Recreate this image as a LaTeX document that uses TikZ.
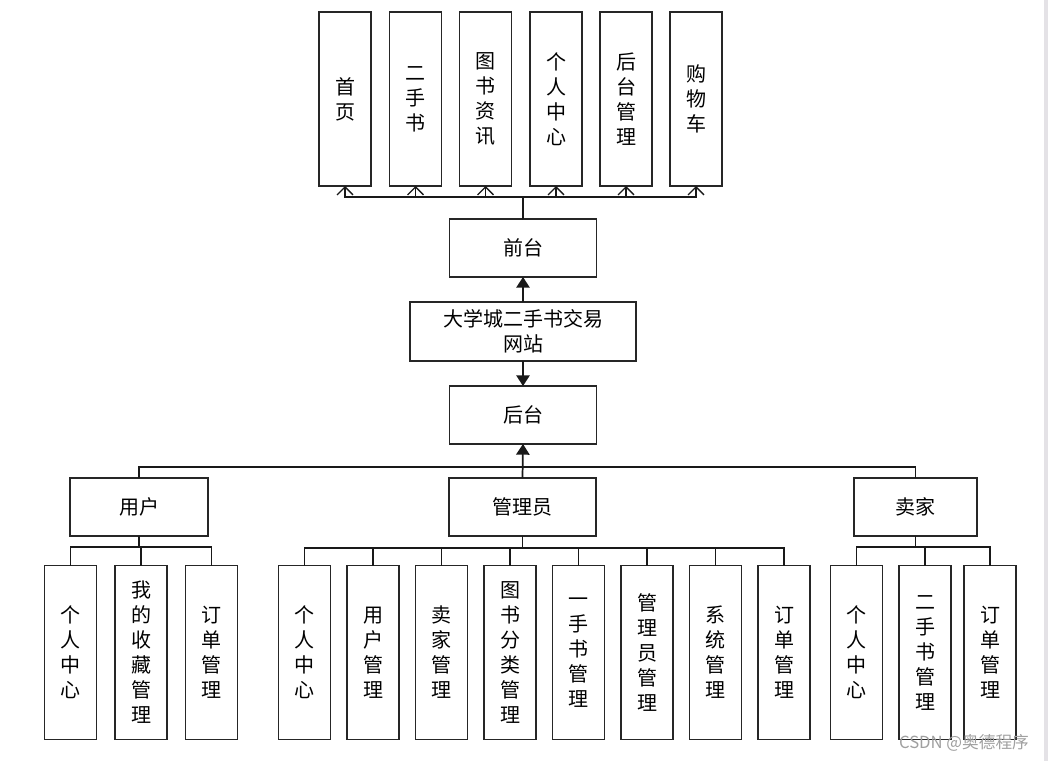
\documentclass[tikz,border=0pt]{standalone}
\usepackage{fontspec}
\setmainfont{Noto Sans CJK SC}
\usetikzlibrary{arrows.meta}
\definecolor{edgegrey}{HTML}{E4E2E6}
\definecolor{wmgrey}{HTML}{A0A0A0}
\begin{document}
\begin{tikzpicture}[x=0.75pt,y=-0.75pt,
  every node/.style={inner sep=0pt, outer sep=0pt},
  bx/.style={draw=black!85, line width=1.3pt, fill=white, font=\fontsize{15}{18.75}\selectfont, align=center},
  vbox/.style={bx, minimum width=39pt, minimum height=130.5pt},
  hbox/.style={bx, minimum width=110.25pt, minimum height=43.5pt},
  conn/.style={draw=black!90, line width=1pt},
  openarr/.style={conn, -{Straight Barb[length=6pt,width=12pt,line width=1pt]}},
  fillarr/.style={conn, line width=1.3pt, -{Triangle[length=8pt,width=10pt]}},
]
\useasboundingbox (0,0) rectangle (1048,761);
\fill[white] (0,0) rectangle (1048,761);
\fill[edgegrey] (1044,0) rectangle (1048,761);

% top row
\node[vbox] (t1) at (345,99) {首\\页};
\node[vbox] (t2) at (415.5,99) {二\\手\\书};
\node[vbox] (t3) at (485.5,99) {图\\书\\资\\讯};
\node[vbox] (t4) at (556,99) {个\\人\\中\\心};
\node[vbox] (t5) at (626,99) {后\\台\\管\\理};
\node[vbox] (t6) at (696,99) {购\\物\\车};

% centre column
\node[hbox] (qt) at (523,248) {前台};
\node[bx, minimum width=169.5pt, minimum height=44.25pt] (site) at (523,331.5) {大学城二手书交易\\网站};
\node[hbox] (ht) at (523,415) {后台};

% second level
\node[bx, minimum width=103.5pt, minimum height=43.5pt] (yh) at (139,507) {用户};
\node[hbox] (gly) at (522.5,507) {管理员};
\node[bx, minimum width=92.25pt, minimum height=43.5pt] (mj) at (915.5,507) {卖家};

% user children
\node[vbox] (u1) at (70.5,652.5) {个\\人\\中\\心};
\node[vbox] (u2) at (141,652.5) {我\\的\\收\\藏\\管\\理};
\node[vbox] (u3) at (211.5,652.5) {订\\单\\管\\理};

% admin children
\node[vbox] (a1) at (304.5,652.5) {个\\人\\中\\心};
\node[vbox] (a2) at (373,652.5) {用\\户\\管\\理};
\node[vbox] (a3) at (441.5,652.5) {卖\\家\\管\\理};
\node[vbox] (a4) at (510,652.5) {图\\书\\分\\类\\管\\理};
\node[vbox] (a5) at (578.5,652.5) {一\\手\\书\\管\\理};
\node[vbox] (a6) at (647,652.5) {管\\理\\员\\管\\理};
\node[vbox] (a7) at (715.5,652.5) {系\\统\\管\\理};
\node[vbox] (a8) at (784,652.5) {订\\单\\管\\理};

% seller children
\node[vbox] (s1) at (856.5,652.5) {个\\人\\中\\心};
\node[vbox] (s2) at (925,652.5) {二\\手\\书\\管\\理};
\node[vbox] (s3) at (990,652.5) {订\\单\\管\\理};

% top connectors
\foreach \t in {t1,t2,t3,t4,t5,t6}
  \draw[openarr] (qt.north) -- ++(0,-22) -| (\t.south);

% centre arrows
\draw[fillarr] (site.north) -- (qt.south);
\draw[fillarr] (site.south) -- (ht.north);
\draw[fillarr] (gly.north) -- (ht.south);

% second level bus
\draw[conn] (yh.north) -- ++(0,-11) -| (mj.north);

% children buses
\foreach \c in {u1,u2,u3}
  \draw[conn] (yh.south) -- ++(0,11) -| (\c.north);
\foreach \c in {a1,a2,a3,a4,a5,a6,a7,a8}
  \draw[conn] (gly.south) -- ++(0,12) -| (\c.north);
\foreach \c in {s1,s2,s3}
  \draw[conn] (mj.south) -- ++(0,11) -| (\c.north);

% watermark
\node[font=\fontsize{12.5}{14}\selectfont, text=wmgrey] (wm) at (964,743) {CSDN @奥德程序};
\end{tikzpicture}
\end{document}
